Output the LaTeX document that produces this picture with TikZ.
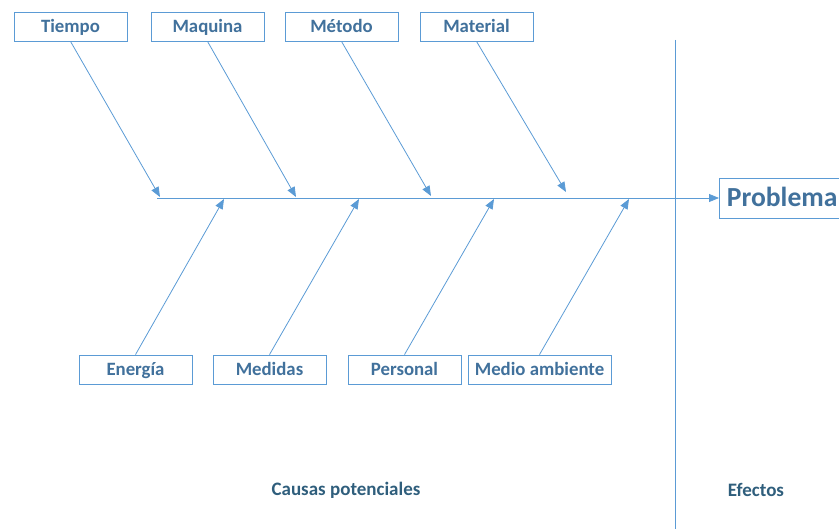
\documentclass[tikz,border=0pt]{standalone}
\usepackage{fontspec}
\setmainfont{Carlito}
\usetikzlibrary{arrows.meta}
\definecolor{lineblue}{HTML}{5B9BD5}
\definecolor{txtblue}{HTML}{41719C}
\definecolor{capblue}{HTML}{2F5E7C}
\tikzset{
  causebox/.style={draw=lineblue, line width=0.8pt, minimum width=113pt, minimum height=29pt, inner sep=0pt, text height=12pt, text depth=0pt, font=\fontsize{18.8}{21}\selectfont\bfseries, text=txtblue, fill=white},
  bone/.style={draw=lineblue, line width=0.8pt, -{Triangle[length=10pt,width=8pt]}},
  caption/.style={font=\fontsize{19}{22}\selectfont\bfseries, text=capblue}
}
\begin{document}
\begin{tikzpicture}[x=1pt,y=-1pt]
\useasboundingbox (0,0) rectangle (839,529);
% top causes
\node[causebox] (tiempo) at (70.5,26.5) {Tiempo};
\node[causebox] (maquina) at (207.5,26.5) {Maquina};
\node[causebox] (metodo) at (341.5,26.5) {Método};
\node[causebox] (material) at (476.5,26.5) {Material};
% bottom causes
\node[causebox] (energia) at (135.5,369.5) {Energía};
\node[causebox] (medidas) at (269.5,369.5) {Medidas};
\node[causebox] (personal) at (404.5,369.5) {Personal};
\node[causebox, minimum width=143pt] (medio) at (539.5,369.5) {Medio ambiente};
% effect
\node[draw=lineblue, line width=0.8pt, anchor=west, minimum height=40pt, inner xsep=7.5pt, inner ysep=0pt, text width=146pt, text height=17.5pt, text depth=0pt, align=left, text=txtblue, font=\fontsize{27.6}{30}\selectfont\bfseries] (problema) at (719,198) {Problema};
% spine and divider
\coordinate (spinestart) at (157,198);
\draw[bone] (spinestart) -- (problema.west);
\coordinate (divtop) at (675,40);
\coordinate (divbot) at (675,529);
\draw[draw=lineblue, line width=0.8pt] (divtop) -- (divbot);
% tips
\coordinate (t1) at (160,197);
\coordinate (t2) at (296,197);
\coordinate (t3) at (431,196);
\coordinate (t4) at (566,192);
\coordinate (b1) at (224,199);
\coordinate (b2) at (359,199);
\coordinate (b3) at (494,199);
\coordinate (b4) at (629,199);
\draw[bone] (tiempo.south) -- (t1);
\draw[bone] (maquina.south) -- (t2);
\draw[bone] (metodo.south) -- (t3);
\draw[bone] (material.south) -- (t4);
\draw[bone] (energia.north) -- (b1);
\draw[bone] (medidas.north) -- (b2);
\draw[bone] (personal.north) -- (b3);
\draw[bone] (medio.north) -- (b4);
% captions
\node[caption] (causas) at (346,490) {Causas potenciales};
\node[caption] (efectos) at (756,490) {Efectos};
\end{tikzpicture}
\end{document}
